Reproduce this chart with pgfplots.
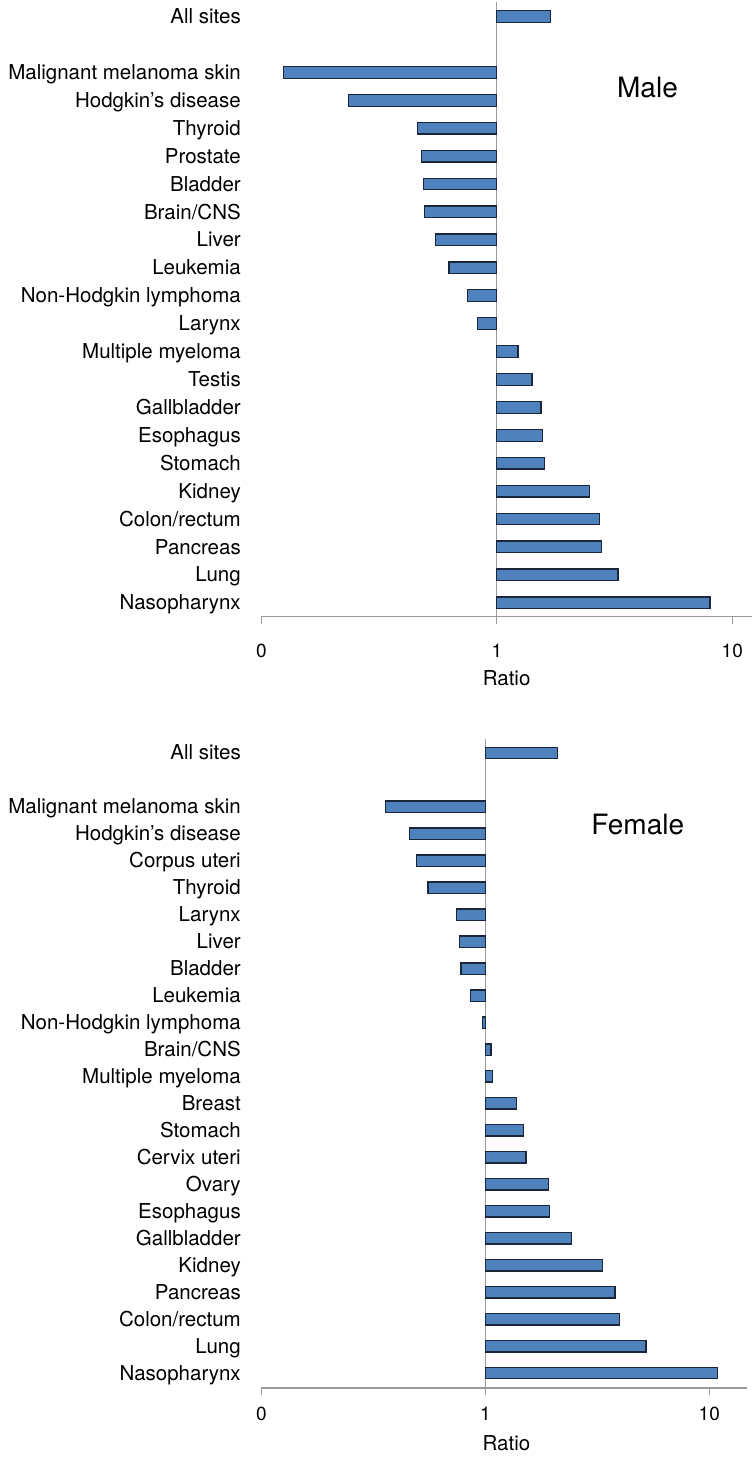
\documentclass[border=0pt]{standalone}
\usepackage{fontspec}
\setmainfont{TeX Gyre Heros}
\usepackage{pgfplots}
\pgfplotsset{compat=1.18}
\definecolor{barblue}{RGB}{79,129,189}
\definecolor{barline}{RGB}{28,38,58}
\definecolor{axgray}{RGB}{155,155,155}
\begin{document}
\begin{tikzpicture}
\useasboundingbox (0,0) rectangle (377pt,730.5pt);
% ---------------- Male ----------------
\begin{axis}[
  scale only axis,
  anchor=south west,
  at={(130.65pt,422.15pt)},
  width=245.35pt, height=307.35pt,
  xmode=log,
  log origin x=0,
  xmin=0.1, xmax=12.13, ymin=-0.498, ymax=21.52,
  enlargelimits=false,
  axis x line=bottom,
  axis y line=left,
  y axis line style={draw=none},
  x axis line style={draw=axgray, line width=0.6pt, -},
  xtick={0.1,1,10},
  xticklabels={0,1,10},
  xminorticks=false,
  tick align=outside,
  major tick length=3.5pt,
  xtick style={draw=axgray, line width=0.6pt},
  ytick style={draw=none},
  /pgf/number format/assume math mode=true,
  xticklabel style={font=\fontsize{9.5}{11}\selectfont, anchor=base, yshift=-17.15pt},
  yticklabel style={font=\fontsize{10.25}{12}\selectfont, anchor=east, xshift=-3.25pt, yshift=-0.9pt, text height=7.4pt, text depth=2.1pt},
  xlabel={Ratio},
  xlabel style={at={(rel axis cs:0.5,0)}, anchor=base, yshift=-34.65pt, font=\fontsize{10.25}{12}\selectfont},
  xbar,
  bar width=5.85pt,
  ytick={0,1,2,3,4,5,6,7,8,9,10,11,12,13,14,15,16,17,18,19,21},
  yticklabels={Nasopharynx,Lung,Pancreas,Colon/rectum,Kidney,Stomach,Esophagus,Gallbladder,Testis,Multiple myeloma,Larynx,Non-Hodgkin lymphoma,Leukemia,Liver,Brain/CNS,Bladder,Prostate,Thyroid,Hodgkin’s disease,Malignant melanoma skin,All sites},
]
\draw[axgray, line width=0.6pt] (axis cs:1,-0.498) -- (axis cs:1,21.52);
\addplot[fill=barblue, draw=barline, line width=0.6pt] coordinates {
(8.04,0) (3.27,1) (2.79,2) (2.74,3) (2.47,4) (1.60,5) (1.56,6) (1.54,7)
(1.41,8) (1.23,9) (0.83,10) (0.75,11) (0.627,12) (0.548,13) (0.495,14)
(0.49,15) (0.48,16) (0.46,17) (0.234,18) (0.124,19) (1.69,21)
};
\end{axis}
% ---------------- Female ----------------
\begin{axis}[
  scale only axis,
  anchor=south west,
  at={(130.65pt,36.5pt)},
  width=242.7pt, height=324.35pt,
  xmode=log,
  log origin x=0,
  xmin=0.1, xmax=14.69, ymin=-0.545, ymax=23.497,
  enlargelimits=false,
  axis x line=bottom,
  axis y line=left,
  y axis line style={draw=none},
  x axis line style={draw=axgray, line width=0.6pt, -},
  xtick={0.1,1,10},
  xticklabels={0,1,10},
  xminorticks=false,
  tick align=outside,
  major tick length=3.5pt,
  xtick style={draw=axgray, line width=0.6pt},
  ytick style={draw=none},
  /pgf/number format/assume math mode=true,
  xticklabel style={font=\fontsize{9.5}{11}\selectfont, anchor=base, yshift=-12.85pt},
  yticklabel style={font=\fontsize{10.25}{12}\selectfont, anchor=east, xshift=-3.25pt, yshift=-0.9pt, text height=7.4pt, text depth=2.1pt},
  xlabel={Ratio},
  xlabel style={at={(rel axis cs:0.505,0)}, anchor=base, yshift=-31.35pt, font=\fontsize{10.25}{12}\selectfont},
  xbar,
  bar width=5.6pt,
  ytick={0,1,2,3,4,5,6,7,8,9,10,11,12,13,14,15,16,17,18,19,20,21,23},
  yticklabels={Nasopharynx,Lung,Colon/rectum,Pancreas,Kidney,Gallbladder,Esophagus,Ovary,Cervix uteri,Stomach,Breast,Multiple myeloma,Brain/CNS,Non-Hodgkin lymphoma,Leukemia,Bladder,Liver,Larynx,Thyroid,Corpus uteri,Hodgkin’s disease,Malignant melanoma skin,All sites},
]
\draw[axgray, line width=0.6pt] (axis cs:1,-0.545) -- (axis cs:1,23.497);
\addplot[fill=barblue, draw=barline, line width=0.6pt] coordinates {
(10.9,0) (5.22,1) (3.98,2) (3.79,3) (3.34,4) (2.43,5) (1.94,6) (1.92,7)
(1.52,8) (1.48,9) (1.38,10) (1.08,11) (1.06,12) (0.973,13) (0.857,14)
(0.779,15) (0.77,16) (0.745,17) (0.555,18) (0.494,19) (0.46,20) (0.359,21) (2.10,23)
};
\end{axis}
\node[anchor=base, font=\fontsize{14}{16}\selectfont] at (323.75pt,681.85pt) {Male};
\node[anchor=base, font=\fontsize{14}{16}\selectfont] at (318.9pt,313pt) {Female};
\end{tikzpicture}
\end{document}
